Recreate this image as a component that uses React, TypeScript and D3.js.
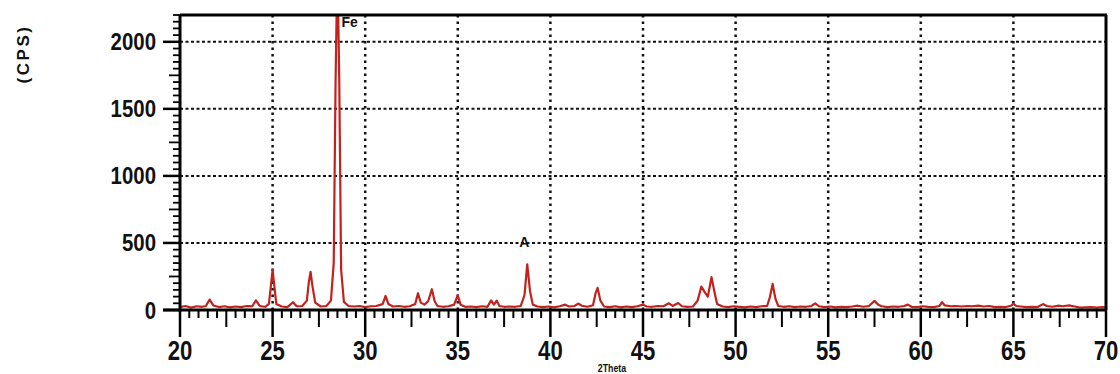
import { useEffect, useRef } from 'react';
import * as d3 from 'd3';

// XRD trace (2theta in degrees, intensity in CPS)
const THETA = [
  20.0, 20.3, 20.6, 20.9, 21.2, 21.4, 21.6, 21.8, 22.1, 22.4, 22.7, 23.0, 23.3, 23.6, 23.9, 24.1, 24.3, 24.6, 24.8, 24.9,
  25.0, 25.1, 25.2, 25.5, 25.8, 26.1, 26.3, 26.6, 26.85, 26.95, 27.05, 27.15, 27.3, 27.6, 27.9, 28.15, 28.3, 28.4, 28.5, 28.6,
  28.7, 28.85, 29.1, 29.4, 29.7, 30.0, 30.3, 30.6, 30.8, 30.95, 31.1, 31.25, 31.5, 31.8, 32.1, 32.4, 32.7, 32.85, 33.0, 33.2,
  33.4, 33.6, 33.75, 33.9, 34.2, 34.5, 34.8, 35.0, 35.15, 35.4, 35.7, 36.0, 36.3, 36.6, 36.8, 36.95, 37.1, 37.25, 37.5, 37.8,
  38.1, 38.4, 38.6, 38.75, 38.9, 39.05, 39.3, 39.6, 39.9, 40.2, 40.5, 40.8, 41.0, 41.3, 41.5, 41.7, 42.0, 42.3, 42.45, 42.55,
  42.7, 42.9, 43.2, 43.5, 43.8, 44.1, 44.4, 44.7, 45.0, 45.2, 45.5, 45.8, 46.1, 46.4, 46.6, 46.9, 47.1, 47.4, 47.7, 47.95,
  48.15, 48.35, 48.5, 48.7, 48.85, 49.0, 49.3, 49.6, 49.9, 50.2, 50.5, 50.8, 51.1, 51.4, 51.7, 51.85, 52.0, 52.15, 52.3, 52.6,
  52.9, 53.2, 53.5, 53.8, 54.1, 54.3, 54.5, 54.8, 55.1, 55.4, 55.7, 56.0, 56.3, 56.6, 56.9, 57.2, 57.5, 57.7, 57.9, 58.2,
  58.5, 58.8, 59.1, 59.3, 59.5, 59.8, 60.1, 60.4, 60.7, 61.0, 61.15, 61.3, 61.6, 61.9, 62.2, 62.5, 62.8, 63.1, 63.4, 63.7,
  64.0, 64.3, 64.6, 64.9, 65.0, 65.15, 65.4, 65.7, 66.0, 66.3, 66.6, 66.8, 67.1, 67.4, 67.7, 68.0, 68.3, 68.6, 68.9, 69.2,
  69.5, 69.8, 70.0,
];
const CPS = [
  22, 30, 18, 28, 24, 30, 78, 34, 22, 28, 20, 26, 22, 30, 28, 72, 30, 24, 45, 170,
  300, 170, 45, 26, 22, 58, 28, 30, 70, 200, 285, 180, 55, 26, 30, 70, 350, 1700, 2600, 1700,
  300, 60, 30, 26, 30, 22, 28, 30, 38, 45, 105, 45, 26, 30, 24, 28, 45, 125, 55, 40,
  65, 155, 65, 30, 24, 28, 40, 110, 40, 24, 26, 22, 28, 24, 72, 40, 70, 30, 24, 26,
  24, 30, 110, 340, 140, 40, 26, 22, 26, 20, 28, 40, 26, 30, 48, 32, 24, 35, 130, 165,
  70, 26, 22, 28, 20, 26, 22, 28, 40, 26, 24, 30, 28, 50, 30, 52, 28, 24, 26, 70,
  175, 130, 100, 245, 140, 45, 26, 22, 28, 24, 20, 26, 22, 28, 30, 95, 195, 85, 30, 24,
  28, 22, 26, 24, 30, 50, 28, 22, 26, 20, 24, 22, 26, 32, 24, 30, 68, 40, 28, 22,
  26, 24, 30, 40, 24, 22, 28, 24, 22, 30, 58, 34, 28, 30, 26, 30, 28, 32, 26, 30,
  22, 24, 22, 34, 48, 30, 26, 22, 24, 22, 44, 30, 24, 32, 28, 34, 26, 18, 20, 22,
  18, 22, 20,
];

const X_TICKS = [20, 25, 30, 35, 40, 45, 50, 55, 60, 65, 70];
const Y_TICKS = [0, 500, 1000, 1500, 2000];
const PEAK_LABELS = ['Fe', 'A'];
const PEAK_AT = [28.5, 38.75];
const PEAK_CPS = [2200, 470];

export default function App() {
  const ref = useRef<SVGSVGElement | null>(null);
  useEffect(() => {
    const svg = d3.select(ref.current!);
    svg.selectAll('*').remove();
    const W = 1120, H = 374;
    const left = 180, right = 1106, top = 15, bottom = 310;
    const x = d3.scaleLinear().domain([20, 70]).range([left, right]);
    const y = d3.scaleLinear().domain([0, 2200]).range([bottom, top]);
    const font = "'Liberation Sans', Arial, sans-serif";

    svg.attr('viewBox', `0 0 ${W} ${H}`);
    svg.append('rect').attr('width', W).attr('height', H).attr('fill', '#fff');
    svg.append('defs').append('clipPath').attr('id', 'plot-clip')
      .append('rect').attr('x', left).attr('y', top).attr('width', right - left).attr('height', bottom - top);

    // grid
    svg.append('g').selectAll('line').data(Y_TICKS.filter((d) => d > 0)).enter().append('line')
      .attr('x1', left).attr('x2', right).attr('y1', (d) => y(d)).attr('y2', (d) => y(d))
      .attr('stroke', '#111').attr('stroke-width', 2).attr('stroke-dasharray', '3,2.5');
    svg.append('g').selectAll('line').data(X_TICKS.filter((d) => d > 20 && d < 70)).enter().append('line')
      .attr('y1', top).attr('y2', bottom).attr('x1', (d) => x(d)).attr('x2', (d) => x(d))
      .attr('stroke', '#111').attr('stroke-width', 2.5).attr('stroke-dasharray', '2.5,4');

    // trace
    const pts = THETA.map((t, i) => [t, CPS[i]] as [number, number]);
    const line = d3.line<[number, number]>().x((d) => x(d[0])).y((d) => y(d[1]));
    svg.append('path').datum(pts).attr('d', line).attr('clip-path', 'url(#plot-clip)')
      .attr('fill', 'none').attr('stroke', '#c4211d').attr('stroke-width', 2.2).attr('stroke-linejoin', 'round');

    // frame
    svg.append('line').attr('x1', left).attr('x2', right + 1).attr('y1', top).attr('y2', top).attr('stroke', '#000').attr('stroke-width', 3);
    svg.append('line').attr('x1', right).attr('x2', right).attr('y1', top).attr('y2', bottom).attr('stroke', '#000').attr('stroke-width', 3);
    svg.append('line').attr('x1', left).attr('x2', left).attr('y1', top).attr('y2', bottom + 2).attr('stroke', '#000').attr('stroke-width', 3);
    svg.append('line').attr('x1', left - 17).attr('x2', right + 1).attr('y1', bottom).attr('y2', bottom).attr('stroke', '#000').attr('stroke-width', 3);

    // x ticks: every 0.5, longer at 2.5, longest at 5
    const xt = d3.range(20, 70.01, 0.5);
    svg.append('g').selectAll('line').data(xt).enter().append('line')
      .attr('x1', (d) => x(d)).attr('x2', (d) => x(d)).attr('y1', bottom)
      .attr('y2', (d) => bottom + (d % 5 === 0 ? 27 : d % 2.5 === 0 ? 17 : 8))
      .attr('stroke', '#000').attr('stroke-width', (d) => (d % 5 === 0 ? 2.5 : 2));
    // y ticks: every 50, longer at 250, longest at 500
    const yt = d3.range(0, 2201, 50);
    svg.append('g').selectAll('line').data(yt).enter().append('line')
      .attr('y1', (d) => y(d)).attr('y2', (d) => y(d)).attr('x1', left)
      .attr('x2', (d) => left - (d % 500 === 0 ? 17 : d % 250 === 0 ? 11 : 7))
      .attr('stroke', '#000').attr('stroke-width', (d) => (d % 500 === 0 ? 2.5 : 1.8));

    // tick labels (narrow bold)
    svg.append('g').selectAll('text').data(X_TICKS).enter().append('text')
      .attr('transform', (d) => `translate(${x(d)},360) scale(0.82,1)`)
      .attr('text-anchor', 'middle').attr('font-family', font).attr('font-weight', 700).attr('font-size', 27)
      .attr('fill', '#111').text((d) => d);
    svg.append('g').selectAll('text').data(Y_TICKS).enter().append('text')
      .attr('transform', (d) => `translate(156,${y(d) + 8.5}) scale(0.85,1)`)
      .attr('text-anchor', 'end').attr('font-family', font).attr('font-weight', 700).attr('font-size', 24)
      .attr('fill', '#111').text((d) => d);

    // axis titles
    svg.append('text').attr('transform', 'translate(29,54) rotate(-90)').attr('text-anchor', 'middle')
      .attr('font-family', font).attr('font-weight', 700).attr('font-size', 17).attr('letter-spacing', 2.5)
      .attr('fill', '#111').text('(CPS)');
    svg.append('text').attr('transform', 'translate(612,372) scale(0.8,1)').attr('text-anchor', 'middle')
      .attr('font-family', font).attr('font-weight', 700).attr('font-size', 11).attr('fill', '#111').text('2Theta');

    // peak labels
    svg.append('g').selectAll('text').data(PEAK_LABELS).enter().append('text')
      .attr('x', (_, i) => x(PEAK_AT[i]) + (i === 0 ? 4 : -8)).attr('y', (_, i) => y(PEAK_CPS[i]) + (i === 0 ? 12 : 0))
      .attr('font-family', font).attr('font-weight', 700).attr('font-size', 14).attr('fill', '#111').text((d) => d);
  }, []);
  return <svg ref={ref} width={1120} height={374} style={{ position: 'absolute', left: 0, top: 0, display: 'block' }} />;
}
